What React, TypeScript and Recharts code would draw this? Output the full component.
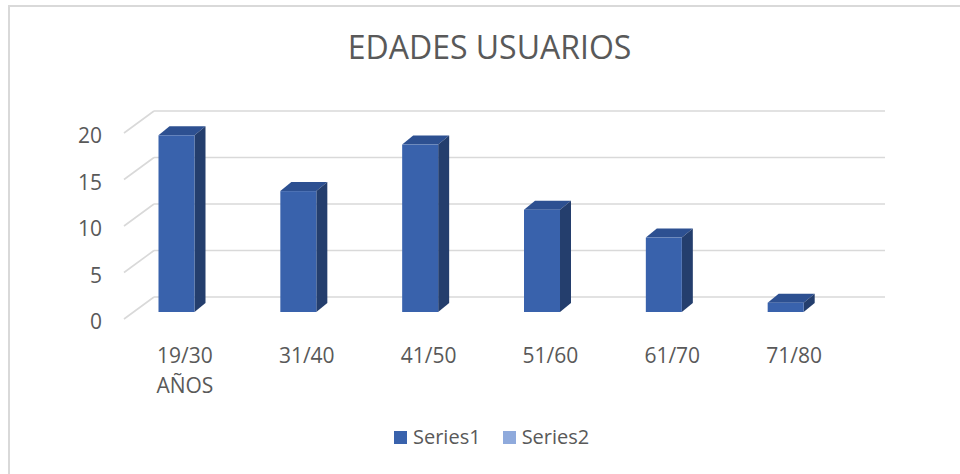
import React from "react";
import { BarChart, Bar, XAxis, YAxis, CartesianGrid, Legend } from "recharts";

const categories = ["19/30 AÑOS", "31/40", "41/50", "51/60", "61/70", "71/80"];
const series1 = [19, 13, 18, 11, 8, 1];
const series2: (number | null)[] = [null, null, null, null, null, null];
const yTicks = [0, 5, 10, 15, 20];

const data = categories.map((c, i) => ({
  name: c,
  Series1: series1[i],
  Series2: series2[i],
}));

const FONT = "'Open Sans', 'Noto Sans', sans-serif";
const TEXT = "#595959";
const GRID = "#d9d9d9";

// back wall offset of the 3D floor
const WALL_DX = 30;
const WALL_DY = -22;

// bar row sits a bit behind the front plane
const ROW_DX = -8.5;
const ROW_DY = -7;
const DEPTH_X = 11;
const DEPTH_Y = -9;

const gridLine = (props: any) => {
  const { x1, y1, x2, index } = props;
  return (
    <g key={`grid-${index}`}>
      <line x1={x1} y1={y1} x2={x1 + WALL_DX} y2={y1 + WALL_DY} stroke={GRID} strokeWidth={1.6} />
      <line x1={x1 + WALL_DX} y1={y1 + WALL_DY} x2={x2 + WALL_DX} y2={y1 + WALL_DY} stroke={GRID} strokeWidth={1.6} />
    </g>
  );
};

const Box3D = (props: any) => {
  const { x, y, width, height, front, top, side } = props;
  if (height == null || !(height > 0)) return <g />;
  const X = x + ROW_DX;
  const Y = y + ROW_DY;
  const W = width;
  const H = height;
  return (
    <g>
      <polygon
        points={`${X},${Y} ${X + DEPTH_X},${Y + DEPTH_Y} ${X + W + DEPTH_X},${Y + DEPTH_Y} ${X + W},${Y}`}
        fill={top}
      />
      <polygon
        points={`${X + W},${Y} ${X + W + DEPTH_X},${Y + DEPTH_Y} ${X + W + DEPTH_X},${Y + H + DEPTH_Y} ${X + W},${Y + H}`}
        fill={side}
      />
      <rect x={X} y={Y} width={W} height={H} fill={front} />
    </g>
  );
};

const XTick = (props: any) => {
  const { x, y, payload } = props;
  const words = String(payload.value).split(" ");
  return (
    <text x={x} y={y + 44} textAnchor="middle" fill={TEXT} fontSize={21} fontFamily={FONT}>
      {words.map((w, i) => (
        <tspan key={i} x={x} dy={i === 0 ? 0 : 30}>
          {w}
        </tspan>
      ))}
    </text>
  );
};

const YTick = (props: any) => {
  const { x, y, payload } = props;
  return (
    <text x={x} y={y + 10} textAnchor="end" fill={TEXT} fontSize={21} fontFamily={FONT}>
      {payload.value}
    </text>
  );
};

const LegendContent = () => {
  const items = [
    { label: "Series1", color: "#3962ac" },
    { label: "Series2", color: "#8faadc" },
  ];
  return (
    <div style={{ display: "flex", alignItems: "center", fontFamily: FONT, fontSize: 20, color: TEXT }}>
      {items.map((it, i) => (
        <div key={it.label} style={{ display: "flex", alignItems: "center", marginLeft: i === 0 ? 0 : 22 }}>
          <span style={{ width: 13, height: 13, background: it.color, display: "inline-block", marginRight: 6 }} />
          <span style={{ lineHeight: "26px" }}>{it.label}</span>
        </div>
      ))}
    </div>
  );
};

export default function App() {
  return (
    <div
      style={{
        position: "absolute",
        left: 0,
        top: 0,
        width: 960,
        height: 474,
        overflow: "hidden",
        background: "#fff",
      }}
    >
      <div
        style={{
          position: "absolute",
          left: 8,
          top: 5,
          width: 1000,
          height: 1000,
          border: `2px solid ${GRID}`,
        }}
      />
      <div
        style={{
          position: "absolute",
          left: 0,
          top: 31,
          width: 979,
          textAlign: "center",
          fontFamily: FONT,
          fontSize: 32,
          lineHeight: "32px",
          color: TEXT,
        }}
      >
        EDADES USUARIOS
      </div>
      <div style={{ position: "absolute", left: 0, top: 0 }}>
        <BarChart
          width={960}
          height={474}
          data={data}
          margin={{ top: 133, right: 105, bottom: 95, left: 24 }}
          barSize={36}
        >
          <CartesianGrid vertical={false} horizontal={gridLine} />
          <XAxis
            dataKey="name"
            axisLine={false}
            tickLine={false}
            tickSize={0}
            tickMargin={0}
            height={60}
            interval={0}
            tick={<XTick />}
          />
          <YAxis
            domain={[0, 20]}
            ticks={yTicks}
            axisLine={false}
            tickLine={false}
            tickSize={0}
            tickMargin={22}
            width={100}
            tick={<YTick />}
          />
          <Legend
            layout="horizontal"
            verticalAlign="middle"
            align="center"
            wrapperStyle={{ top: 424, left: 394, width: "auto" }}
            content={<LegendContent />}
          />
          <Bar
            dataKey="Series1"
            stackId="a"
            fill="#3962ac"
            isAnimationActive={false}
            shape={(p: any) => <Box3D {...p} front="#3962ac" top="#2d5091" side="#243e6d" />}
          />
          <Bar
            dataKey="Series2"
            stackId="a"
            fill="#8faadc"
            isAnimationActive={false}
            shape={(p: any) => <Box3D {...p} front="#8faadc" top="#6f8cc4" side="#5a77ad" />}
          />
        </BarChart>
      </div>
    </div>
  );
}
